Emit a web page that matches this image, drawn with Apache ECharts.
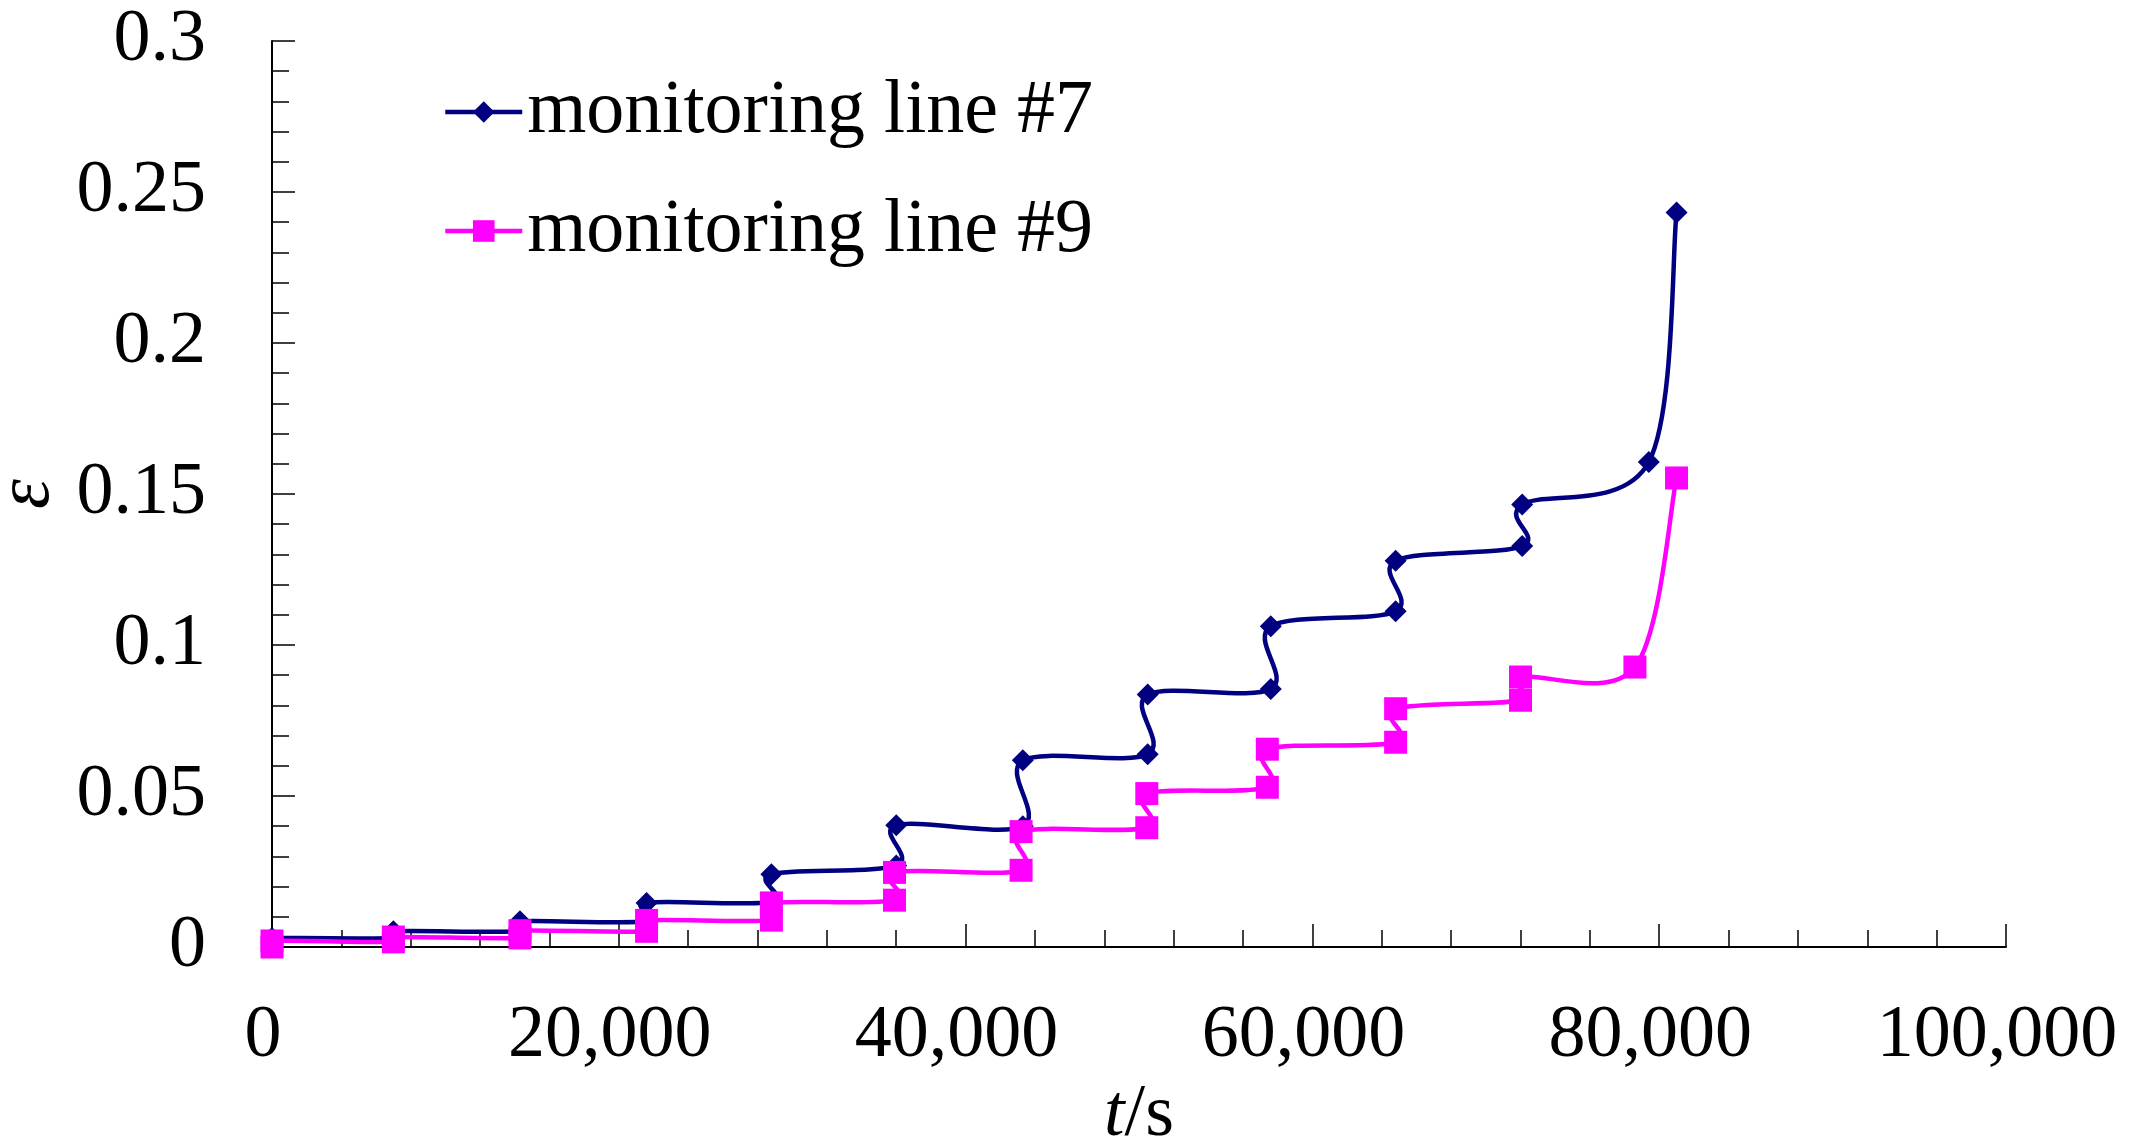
<!DOCTYPE html>
<html>
<head>
<meta charset="utf-8">
<script src="https://cdn.jsdelivr.net/npm/echarts@6/dist/echarts.min.js"></script>
<style>
html,body{margin:0;padding:0;background:#fff;}
#chart{width:2131px;height:1142px;}
</style>
</head>
<body>
<div id="chart"></div>
<script>
// ---- data ----
const seriesNames = ['monitoring line #7', 'monitoring line #9'];
const line7Time = [0, 7000, 7000, 14300, 14300, 21600, 21600, 28800, 28800, 36000, 36000, 43300, 43300, 50500, 50500, 57600, 57600, 64800, 64800, 72100, 72100, 79400, 81000];
const line7Strain = [0.003, 0.003, 0.0052, 0.0052, 0.0085, 0.0085, 0.0146, 0.015, 0.0241, 0.027, 0.0403, 0.040, 0.0618, 0.0638, 0.0836, 0.0854, 0.1062, 0.1112, 0.1279, 0.1328, 0.1465, 0.1606, 0.2432];
const line9Time = [0, 0, 7000, 7000, 14300, 14300, 21600, 21600, 28800, 28800, 35900, 35900, 43200, 43200, 50450, 50450, 57400, 57400, 64800, 64800, 72000, 72000, 78600, 81000];
const line9Strain = [0.0, 0.002, 0.0017, 0.0033, 0.003, 0.0054, 0.0052, 0.0088, 0.0089, 0.0146, 0.0155, 0.0247, 0.0254, 0.0382, 0.0395, 0.0508, 0.0529, 0.0655, 0.0678, 0.0789, 0.0817, 0.0894, 0.0927, 0.1553];
const xTicks = [0, 20000, 40000, 60000, 80000, 100000];
const yTicks = [0, 0.05, 0.1, 0.15, 0.2, 0.25, 0.3];

const FONT = '"Liberation Serif", "Times New Roman", serif';
const NAVY = '#000080';
const MAGENTA = '#FF00FF';
const pairs = (xs, ys) => xs.map((x, i) => [x, ys[i]]);
const data7 = pairs(line7Time, line7Strain);
const data9 = pairs(line9Time, line9Strain);

// Smoothed (Catmull-Rom / Bezier, spreadsheet-style) curve drawn through the axis scales
function curveSeries(name, data, color, z) {
  return {
    name: name,
    type: 'custom',
    data: data,
    encode: {x: 0, y: 1},
    clip: false,
    silent: true,
    z: z,
    renderItem: function (params, api) {
      const i = params.dataIndex;
      const n = data.length;
      if (i >= n - 1) return null;
      const P = data.map(d => api.coord(d));
      const p0 = P[Math.max(i - 1, 0)], p1 = P[i], p2 = P[i + 1], p3 = P[Math.min(i + 2, n - 1)];
      return {
        type: 'bezierCurve',
        shape: {
          x1: p1[0], y1: p1[1], x2: p2[0], y2: p2[1],
          cpx1: p1[0] + (p2[0] - p0[0]) / 6, cpy1: p1[1] + (p2[1] - p0[1]) / 6,
          cpx2: p2[0] - (p3[0] - p1[0]) / 6, cpy2: p2[1] - (p3[1] - p1[1]) / 6
        },
        style: {stroke: color, lineWidth: 4.5, fill: null, lineCap: 'round', lineJoin: 'round'}
      };
    }
  };
}

const chart = echarts.init(document.getElementById('chart'), null, {renderer: 'canvas'});
chart.setOption({
  backgroundColor: '#ffffff',
  animation: false,
  grid: {left: 272, right: 125, top: 41, bottom: 195, containLabel: false, outerBoundsMode: 'none'},
  legend: {
    orient: 'vertical',
    left: 438,
    top: 69,
    itemWidth: 77,
    itemHeight: 27,
    itemGap: 43,
    lineStyle: {width: 4.5, opacity: 1},
    textStyle: {fontFamily: FONT, fontSize: 76, color: '#000', lineHeight: 76},
    data: seriesNames
  },
  xAxis: {
    type: 'value',
    min: xTicks[0],
    max: xTicks[xTicks.length - 1],
    interval: xTicks[1] - xTicks[0],
    name: '{i|t}/s',
    nameLocation: 'middle',
    nameGap: 96,
    nameTextStyle: {
      fontFamily: FONT, fontSize: 74, color: '#000',
      rich: {i: {fontFamily: FONT, fontSize: 74, fontStyle: 'italic', color: '#000'}}
    },
    axisLine: {show: true, lineStyle: {color: '#000', width: 2}},
    axisTick: {show: true, inside: true, length: 23, lineStyle: {color: '#000', width: 1.5}},
    minorTick: {show: true, splitNumber: 5, length: 17, lineStyle: {color: '#000', width: 1.5}},
    splitLine: {show: false},
    axisLabel: {
      margin: 53,
      padding: [0, 18, 0, 0],
      fontFamily: FONT, fontSize: 74, color: '#000',
      formatter: v => v.toLocaleString('en-US')
    }
  },
  yAxis: {
    type: 'value',
    min: yTicks[0],
    max: yTicks[yTicks.length - 1],
    interval: yTicks[1] - yTicks[0],
    name: 'ε',
    nameLocation: 'middle',
    nameGap: 194,
    nameTextStyle: {fontFamily: FONT, fontSize: 76, fontStyle: 'italic', color: '#000'},
    axisLine: {show: true, lineStyle: {color: '#000', width: 2}},
    axisTick: {show: true, inside: true, length: 23, lineStyle: {color: '#000', width: 1.5}},
    minorTick: {show: true, splitNumber: 5, length: 17, lineStyle: {color: '#000', width: 1.5}},
    splitLine: {show: false},
    axisLabel: {
      margin: 66,
      fontFamily: FONT, fontSize: 74, color: '#000',
      formatter: v => String(parseFloat(v.toFixed(4)))
    }
  },
  series: [
    curveSeries('curve7', data7, NAVY, 1),
    {
      name: seriesNames[0],
      type: 'line',
      data: data7,
      symbol: 'diamond',
      symbolSize: 22,
      showAllSymbol: true,
      lineStyle: {color: NAVY, width: 4.5, opacity: 0},
      itemStyle: {color: NAVY},
      z: 2
    },
    curveSeries('curve9', data9, MAGENTA, 3),
    {
      name: seriesNames[1],
      type: 'line',
      data: data9,
      symbol: 'rect',
      symbolSize: 23,
      showAllSymbol: true,
      lineStyle: {color: MAGENTA, width: 4.5, opacity: 0},
      itemStyle: {color: MAGENTA},
      z: 4
    }
  ]
});
</script>
</body>
</html>
